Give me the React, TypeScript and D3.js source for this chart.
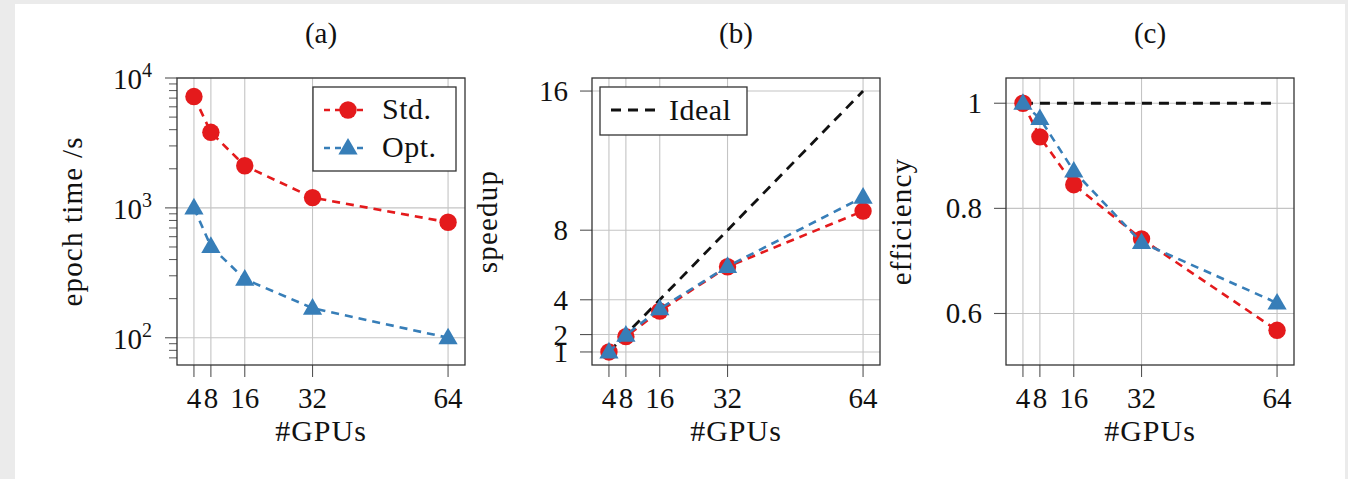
import React from 'react';
import * as d3 from 'd3';

// data
const gpus = [4, 8, 16, 32, 64];
const gpuTickLabels = ['4', '8', '16', '32', '64'];

const epochStd = [7200, 3820, 2110, 1200, 775];
const epochOpt = [1000, 505, 283, 169, 100];

const speedupStd = [1, 1.88, 3.35, 5.9, 9.1];
const speedupOpt = [1, 1.97, 3.48, 5.92, 9.9];
const speedupIdeal = [1, 2, 4, 8, 16];
const speedupTicks = [1, 2, 4, 8, 16];

const effStd = [1, 0.936, 0.845, 0.742, 0.568];
const effOpt = [1, 0.971, 0.871, 0.735, 0.62];
const effIdeal = [1, 1, 1, 1, 1];
const effTicks = [0.6, 0.8, 1];

const epochMajorTicks = [100, 1000, 10000];

const RED = '#e41a1c';
const BLUE = '#377eb8';
const FONT = '"Liberation Serif", "DejaVu Serif", serif';
const FS = 29;

const W = 1348;
const H = 479;
const boxTop = 78;
const boxH = 287;
const boxW = 288;

type Series = { values: number[]; color: string; marker: 'circle' | 'triangle' | null; dash: string; width: number };

const triPath = d3.symbol(d3.symbolTriangle, 160)() as string;

const Marker: React.FC<{ kind: 'circle' | 'triangle'; x: number; y: number; color: string }> = ({ kind, x, y, color }) =>
  kind === 'circle'
    ? <circle cx={x} cy={y} r={8.7} fill={color} />
    : <path d={triPath} transform={`translate(${x},${y + 1})`} fill={color} />;

interface PanelProps {
  left: number;
  title: string;
  ylabel: string;
  y: d3.ScaleContinuousNumeric<number, number>;
  yTicks: number[];
  yFormat: (v: number) => React.ReactNode;
  minorTicks?: number[];
  series: Series[];
  children?: React.ReactNode;
}

const Panel: React.FC<PanelProps> = ({ left, title, ylabel, y, yTicks, yFormat, minorTicks = [], series, children }) => {
  const x = d3.scaleLinear().domain([0, 68]).range([left, left + boxW]);
  const bottom = boxTop + boxH;
  const line = d3.line<number>().x((_, i) => x(gpus[i])).y(v => y(v));
  return (
    <g>
      <text x={left + boxW / 2} y={43} textAnchor="middle" fontSize={FS}>{title}</text>
      {/* grid + ticks */}
      {gpus.map(g => (
        <line key={'vx' + g} x1={x(g)} x2={x(g)} y1={boxTop} y2={bottom} stroke="#c4c4c4" strokeWidth={1.1} />
      ))}
      {gpus.map(g => (
        <line key={'tx' + g} x1={x(g)} x2={x(g)} y1={bottom} y2={bottom + 12} stroke="#555" strokeWidth={1.1} />
      ))}
      {yTicks.map(t => (
        <line key={'gy' + t} x1={left} x2={left + boxW} y1={y(t)} y2={y(t)} stroke="#c4c4c4" strokeWidth={1.1} />
      ))}
      {yTicks.map(t => (
        <line key={'ty' + t} x1={left - 12} x2={left} y1={y(t)} y2={y(t)} stroke="#555" strokeWidth={1.1} />
      ))}
      {minorTicks.map(t => (
        <line key={'my' + t} x1={left - 8} x2={left} y1={y(t)} y2={y(t)} stroke="#555" strokeWidth={1} />
      ))}
      <rect x={left} y={boxTop} width={boxW} height={boxH} fill="none" stroke="#333" strokeWidth={1.3} />
      {/* tick labels */}
      {gpus.map((g, i) => (
        <text key={'lx' + g} x={x(g)} y={bottom + 43} textAnchor="middle" fontSize={FS}>{gpuTickLabels[i]}</text>
      ))}
      {yTicks.map(t => (
        <g key={'ly' + t}>{yFormat(t)}</g>
      ))}
      <text x={left + boxW / 2} y={441} textAnchor="middle" fontSize={FS + 1} letterSpacing={1}>#GPUs</text>
      <text transform={`translate(${left - 95},${boxTop + boxH / 2}) rotate(-90)`} textAnchor="middle" fontSize={FS} letterSpacing={1.2}>{ylabel}</text>
      {/* series */}
      {series.map((s, k) => (
        <g key={'s' + k}>
          <path d={line(s.values) as string} fill="none" stroke={s.color} strokeWidth={s.width} strokeDasharray={s.dash} />
          {s.marker && s.values.map((v, i) => (
            <Marker key={i} kind={s.marker!} x={x(gpus[i])} y={y(v)} color={s.color} />
          ))}
        </g>
      ))}
      {children}
    </g>
  );
};

const App: React.FC = () => {
  const lefts = [177, 592, 1006];
  const yA = d3.scaleLog().domain([61.7, 10000]).range([boxTop + boxH, boxTop]);
  const yB = d3.scaleLinear().domain([0.25, 16.75]).range([boxTop + boxH, boxTop]);
  const yC = d3.scaleLinear().domain([0.502, 1.048]).range([boxTop + boxH, boxTop]);

  const minorA: number[] = [];
  [10, 100, 1000].forEach(d => {
    for (let m = 2; m <= 9; m++) {
      const v = m * d;
      if (v >= 61.7 && v <= 10000) minorA.push(v);
    }
  });

  const dashC = '8,6';
  const legA = lefts[0] + boxW - 152;

  return (
    <div style={{ position: 'absolute', left: 0, top: 0 }}>
      <svg width={W} height={H} style={{ display: 'block', fontFamily: FONT }}>
        <rect x={0} y={0} width={W} height={H} fill="#ebebeb" />
        <rect x={15} y={4} width={1330} height={H - 4} fill="#fff" />
        <g fill="#111">
          {/* (a) */}
          <Panel
            left={lefts[0]}
            title="(a)"
            ylabel="epoch time /s"
            y={yA}
            yTicks={epochMajorTicks}
            minorTicks={minorA}
            yFormat={t => (
              <text x={lefts[0] - 25} y={yA(t) + 11} textAnchor="end" fontSize={FS}>
                10<tspan fontSize={20} dy={-12}>{Math.round(Math.log10(t))}</tspan>
              </text>
            )}
            series={[
              { values: epochStd, color: RED, marker: 'circle', dash: dashC, width: 2.6 },
              { values: epochOpt, color: BLUE, marker: 'triangle', dash: dashC, width: 2.6 },
            ]}
          >
            <g>
              <rect x={legA} y={87} width={143} height={84} fill="#fff" stroke="#333" strokeWidth={1.3} />
              {[{ c: RED, m: 'circle', t: 'Std.' }, { c: BLUE, m: 'triangle', t: 'Opt.' }].map((e, i) => {
                const cy = 110 + i * 38;
                return (
                  <g key={e.t}>
                    <line x1={legA + 11} x2={legA + 55} y1={cy} y2={cy} stroke={e.c} strokeWidth={2.6} strokeDasharray="6,5" />
                    <Marker kind={e.m as 'circle' | 'triangle'} x={legA + 35} y={cy} color={e.c} />
                    <text x={legA + 69} y={cy + 9} fontSize={FS + 1} letterSpacing={0.5}>{e.t}</text>
                  </g>
                );
              })}
            </g>
          </Panel>

          {/* (b) */}
          <Panel
            left={lefts[1]}
            title="(b)"
            ylabel="speedup"
            y={yB}
            yTicks={speedupTicks}
            yFormat={t => (
              <text x={lefts[1] - 24} y={yB(t) + 10} textAnchor="end" fontSize={FS}>{t}</text>
            )}
            series={[
              { values: speedupIdeal, color: '#111', marker: null, dash: '10,7', width: 2.8 },
              { values: speedupStd, color: RED, marker: 'circle', dash: dashC, width: 2.6 },
              { values: speedupOpt, color: BLUE, marker: 'triangle', dash: dashC, width: 2.6 },
            ]}
          >
            <g>
              <rect x={lefts[1] + 8} y={87} width={147} height={48} fill="#fff" stroke="#333" strokeWidth={1.3} />
              <line x1={lefts[1] + 19} x2={lefts[1] + 63} y1={110} y2={110} stroke="#111" strokeWidth={2.8} strokeDasharray="10,7" />
              <text x={lefts[1] + 77} y={120} fontSize={FS + 1} letterSpacing={0.5}>Ideal</text>
            </g>
          </Panel>

          {/* (c) */}
          <Panel
            left={lefts[2]}
            title="(c)"
            ylabel="efficiency"
            y={yC}
            yTicks={effTicks}
            yFormat={t => (
              <text x={lefts[2] - 24} y={yC(t) + 10} textAnchor="end" fontSize={FS}>{String(t)}</text>
            )}
            series={[
              { values: effIdeal, color: '#111', marker: null, dash: '10,7', width: 2.8 },
              { values: effStd, color: RED, marker: 'circle', dash: dashC, width: 2.6 },
              { values: effOpt, color: BLUE, marker: 'triangle', dash: dashC, width: 2.6 },
            ]}
          />
        </g>
      </svg>
    </div>
  );
};

export default App;
